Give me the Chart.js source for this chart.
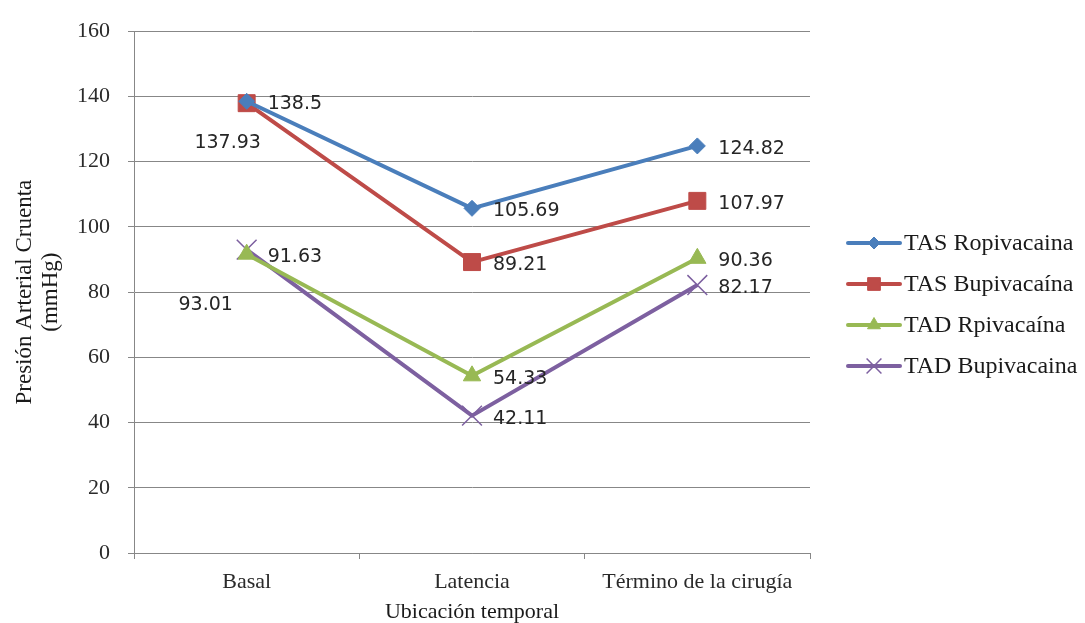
<!DOCTYPE html>
<html>
<head>
<meta charset="utf-8">
<script src="https://cdn.jsdelivr.net/npm/chart.js@4/dist/chart.umd.min.js"></script>
<style>
  html,body{margin:0;padding:0;background:#fff;}
  #wrap{width:1085px;height:623px;position:relative;}
</style>
</head>
<body>
<div id="wrap"><canvas id="grafico"></canvas></div>
<script>
// ===================== DATOS =====================
const categorias     = ['Basal','Latencia','Término de la cirugía'];
const tasRopivacaina = [138.5, 105.69, 124.82];
const tasBupivacaina = [137.93, 89.21, 107.97];
const tadRpivacaina  = [91.63, 54.33, 90.36];
const tadBupivacaina = [93.01, 42.11, 82.17];
const nombresSeries  = ['TAS Ropivacaina','TAS Bupivacaína','TAD Rpivacaína','TAD Bupivacaina'];
const yTicks         = [0,20,40,60,80,100,120,140,160];

const SERIF = "'Liberation Serif','Times New Roman',serif";
const SANS  = "'DejaVu Sans',Verdana,sans-serif";
const GRIS  = '#878787';

// estilo de cada serie (color, marcador, radio)
const estilos = [
  {color:'#4A7EBB', point:'rectRot',  r:8,  bw:1},
  {color:'#BE4B48', point:'rect',     r:12, bw:1},
  {color:'#98B954', point:'triangle', r:10, bw:1},
  {color:'#7D60A0', point:'crossRot', r:14, bw:1.5},
];

// posición de etiquetas que Excel no dejó a la derecha del punto
const etiquetaEspecial = {
  '1-0': {dx:-19, dy:40, align:'center'},
  '3-0': {dx:-41, dy:55, align:'center'},
};

const datasets = [tasRopivacaina,tasBupivacaina,tadRpivacaina,tadBupivacaina].map((d,i)=>({
  label:nombresSeries[i], data:d,
  borderColor:estilos[i].color, backgroundColor:estilos[i].color,
  borderWidth:4, tension:0,
  pointStyle:estilos[i].point, pointRadius:estilos[i].r, pointHoverRadius:estilos[i].r,
  pointBorderWidth:estilos[i].bw,
  pointBackgroundColor:estilos[i].color, pointBorderColor:estilos[i].color,
}));

// ── etiquetas de valor ──
const etiquetasPlugin = {
  id:'etiquetas',
  afterDatasetsDraw(chart){
    const ctx = chart.ctx;
    ctx.save();
    ctx.font = '19px '+SANS;
    ctx.fillStyle = '#262626';
    ctx.textBaseline = 'middle';
    chart.data.datasets.forEach((ds,i)=>{
      chart.getDatasetMeta(i).data.forEach((pt,j)=>{
        const esp = etiquetaEspecial[i+'-'+j];
        if(esp){
          ctx.textAlign = esp.align;
          ctx.fillText(String(ds.data[j]), pt.x+esp.dx, pt.y+esp.dy);
        } else {
          ctx.textAlign = 'left';
          ctx.fillText(String(ds.data[j]), pt.x+21, pt.y+3);
        }
      });
    });
    ctx.restore();
  }
};

// ── leyenda a la derecha (línea + marcador) ──
const leyendaPlugin = {
  id:'leyendaExcel',
  afterDraw(chart){
    const ctx = chart.ctx;
    const x0 = chart.chartArea.right + 38;
    const y0 = 243, paso = 41;
    ctx.save();
    chart.data.datasets.forEach((ds,i)=>{
      const y = y0 + i*paso;
      const e = estilos[i];
      ctx.strokeStyle = e.color; ctx.lineWidth = 4; ctx.lineCap = 'round';
      ctx.beginPath(); ctx.moveTo(x0,y); ctx.lineTo(x0+52,y); ctx.stroke();
      ctx.fillStyle = e.color; ctx.lineWidth = e.bw; ctx.lineCap = 'butt';
      Chart.helpers.drawPoint(ctx,{pointStyle:e.point, radius:e.r*0.75, rotation:0, borderWidth:e.bw}, x0+26, y);
      ctx.fillStyle = '#1a1a1a';
      ctx.font = '24px '+SERIF;
      ctx.textAlign = 'left'; ctx.textBaseline = 'middle';
      ctx.fillText(ds.label, x0+56, y+1);
    });
    ctx.restore();
  }
};

new Chart(document.getElementById('grafico').getContext('2d'),{
  type:'line',
  data:{labels:categorias, datasets},
  plugins:[etiquetasPlugin, leyendaPlugin],
  options:{
    responsive:true, maintainAspectRatio:false, animation:false,
    layout:{padding:{top:26,right:275,left:0,bottom:0}},
    plugins:{legend:{display:false}, tooltip:{enabled:false}},
    scales:{
      x:{
        offset:true,
        grid:{offset:true, drawOnChartArea:false, color:GRIS, tickLength:6, tickColor:GRIS},
        border:{color:GRIS, width:1},
        ticks:{color:'#2a2a2a', padding:10, font:{family:SERIF, size:22}, maxRotation:0},
        title:{display:true, text:'Ubicación temporal', color:'#1a1a1a',
               font:{family:SERIF, size:22, lineHeight:1}, padding:{top:4,bottom:0}},
        afterFit(s){ s.height = 70; }
      },
      y:{
        min:0, max:160,
        afterBuildTicks(s){ s.ticks = yTicks.map(v=>({value:v})); },
        grid:{color:GRIS, lineWidth:1, tickLength:6, tickColor:GRIS},
        border:{color:GRIS, width:1},
        ticks:{color:'#2a2a2a', padding:18, font:{family:SERIF, size:22}},
        title:{display:true, text:['Presión Arterial Cruenta','(mmHg)'], color:'#1a1a1a',
               font:{family:SERIF, size:23, lineHeight:1.13}, padding:{top:12,bottom:0}},
        afterFit(s){ s.width = 134; }
      }
    }
  }
});
</script>
</body>
</html>
